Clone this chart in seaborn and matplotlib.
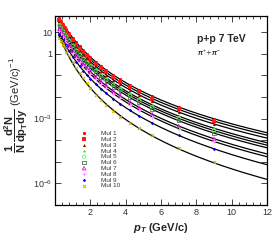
import numpy as np
import pandas as pd
import seaborn as sns
import matplotlib
matplotlib.use("Agg")
import matplotlib.pyplot as plt
from matplotlib.ticker import MultipleLocator, FixedLocator, FuncFormatter, NullLocator

# measured pion spectra, p+p 7 TeV, ten multiplicity classes
pt = [0.25, 0.35, 0.45, 0.55, 0.65, 0.8, 1.0, 1.2, 1.4, 1.6, 1.8, 2.0, 2.3, 2.6, 2.9,
      3.3, 3.7, 4.25, 4.75, 5.5, 7.0, 9.0]

mul1 = [45.1, 33.0, 24.2, 17.9, 13.5, 8.93, 5.37, 3.37, 2.18, 1.45, 0.99, 0.693, 0.422, 0.267,
        0.174, 0.103, 0.064, 0.035, 0.0213, 0.0108, 3.42e-3, 9.77e-4]
mul2 = [35.0, 25.6, 18.8, 13.9, 10.5, 6.93, 4.17, 2.62, 1.69, 1.13, 0.768, 0.538, 0.327, 0.207,
        0.135, 0.080, 0.0497, 0.0272, 0.0165, 8.38e-3, 2.65e-3, 7.58e-4]
mul3 = [28.4, 20.7, 15.2, 11.2, 8.38, 5.55, 3.32, 2.07, 1.34, 0.887, 0.604, 0.422, 0.255, 0.161,
        0.105, 0.0618, 0.0381, 0.0207, 0.0126, 6.35e-3, 1.99e-3, 5.62e-4]
mul4 = [24.0, 17.4, 12.6, 9.27, 6.87, 4.51, 2.65, 1.64, 1.04, 0.684, 0.461, 0.319, 0.190, 0.118,
        0.0762, 0.0444, 0.0270, 0.0145, 8.63e-3, 4.29e-3, 1.30e-3, 3.55e-4]
mul5 = [20.9, 15.1, 10.9, 7.98, 5.90, 3.85, 2.26, 1.38, 0.877, 0.574, 0.385, 0.265, 0.157, 0.0975,
        0.0625, 0.0361, 0.0219, 0.0116, 6.92e-3, 3.41e-3, 1.02e-3, 2.75e-4]
mul6 = [17.8, 12.8, 9.23, 6.71, 4.95, 3.22, 1.88, 1.15, 0.723, 0.471, 0.315, 0.216, 0.128, 0.0785,
        0.0501, 0.0288, 0.0174, 9.18e-3, 5.43e-3, 2.66e-3, 7.85e-4, 2.09e-4]
mul7 = [14.0, 9.98, 7.13, 5.14, 3.76, 2.40, 1.38, 0.828, 0.514, 0.330, 0.218, 0.148, 0.0859, 0.0521,
        0.0327, 0.0185, 0.0110, 5.69e-3, 3.30e-3, 1.58e-3, 4.49e-4, 1.15e-4]
mul8 = [11.1, 7.91, 5.65, 4.06, 2.96, 1.90, 1.09, 0.650, 0.404, 0.259, 0.171, 0.115, 0.0668, 0.0405,
        0.0254, 0.0143, 8.47e-3, 4.39e-3, 2.54e-3, 1.21e-3, 3.43e-4, 8.69e-5]
mul9 = [8.22, 5.75, 4.05, 2.88, 2.07, 1.30, 0.728, 0.427, 0.260, 0.164, 0.106, 0.0706, 0.0401, 0.0238,
        0.0146, 8.07e-3, 4.67e-3, 2.35e-3, 1.33e-3, 6.17e-4, 1.66e-4, 3.98e-5]
mul10 = [5.47, 3.72, 2.54, 1.75, 1.23, 0.743, 0.396, 0.222, 0.130, 0.0708, 0.0418, 0.0254, 0.0128,
         6.98e-3, 4.03e-3, 2.11e-3, 1.20e-3, 6.19e-4, 3.65e-4, 1.64e-4, 4.12e-5, 9.55e-6]

labels = ["Mul 1", "Mul 2", "Mul 3", "Mul 4", "Mul 5", "Mul 6", "Mul 7", "Mul 8", "Mul 9", "Mul 10"]
series = [mul1, mul2, mul3, mul4, mul5, mul6, mul7, mul8, mul9, mul10]

# marker style per class: (marker, colour, filled, size)
styles = [("o", "#ff0000", True, 5), ("s", "#ff1a1a", True, 5), ("^", "#a00000", True, 5),
          ("*", "#00ee00", True, 7), ("o", "#7fe07f", False, 6), ("s", "#3f7f3f", False, 6),
          ("^", "#ff00ff", False, 6), ("+", "#ff99ff", True, 7), ("D", "#0000ff", True, 3),
          ("x", "#c8b400", True, 5)]

PION_MASS = 0.1396


def tsallis_fit(x, y):
    # least squares Tsallis fit in log space (grid over n and T)
    x = np.asarray(x)
    logy = np.log10(y)
    mtk = np.sqrt(x ** 2 + PION_MASS ** 2) - PION_MASS
    ns = np.linspace(3, 14, 221)[:, None]
    Ts = np.linspace(0.05, 0.6, 221)[None, :]
    L = np.log10(1 + mtk[None, None, :] / (ns * Ts)[..., None])
    loga = np.mean(logy + ns[..., None] * L, axis=-1)
    res = np.sum((logy - loga[..., None] + ns[..., None] * L) ** 2, axis=-1)
    i, j = np.unravel_index(np.argmin(res), res.shape)
    return loga[i, j], ns[i, 0], Ts[0, j]


def tsallis(x, loga, n, T):
    mtk = np.sqrt(x ** 2 + PION_MASS ** 2) - PION_MASS
    return 10 ** (loga - n * np.log10(1 + mtk / (n * T)))


sns.set_style("ticks")
plt.rcParams["font.family"] = ["Liberation Sans", "DejaVu Sans"]
plt.rcParams["mathtext.fontset"] = "custom"
plt.rcParams["mathtext.rm"] = "Liberation Sans"
plt.rcParams["mathtext.it"] = "Liberation Sans:italic:bold"
plt.rcParams["mathtext.bf"] = "Liberation Sans:bold"

fig = plt.figure(figsize=(2.76, 2.42), dpi=100)
ax = fig.add_axes([0.1993, 0.1529, 0.768, 0.781])

grid = np.linspace(0.2, 12, 400)
for lab, ys, (mk, col, filled, sz) in zip(labels, series, styles):
    loga, n, T = tsallis_fit(pt, ys)
    sns.lineplot(x=grid, y=tsallis(grid, loga, n, T), color="black", lw=0.9,
                 ax=ax, zorder=2, legend=False)
    df = pd.DataFrame({"pt": pt, "y": ys})
    if mk in ("+", "x"):
        sns.scatterplot(data=df, x="pt", y="y", marker=mk, color=col, s=sz,
                        linewidth=0.7, ax=ax, zorder=3, label=lab)
    elif filled:
        sns.scatterplot(data=df, x="pt", y="y", marker=mk, color=col, s=sz,
                        linewidth=0, ax=ax, zorder=3, label=lab)
    else:
        sns.scatterplot(data=df, x="pt", y="y", marker=mk, facecolor="none",
                        edgecolor=col, s=sz, linewidth=0.6, ax=ax, zorder=3, label=lab)

ax.set_yscale("log")
ax.set_xlim(0, 12)
ax.set_ylim(1e-7, 55)

ax.xaxis.set_major_locator(MultipleLocator(2))
ax.xaxis.set_minor_locator(MultipleLocator(0.4))
ax.xaxis.set_major_formatter(FuncFormatter(lambda v, p: "" if v == 0 else "%d" % v))
ax.yaxis.set_major_locator(FixedLocator([10.0 ** k for k in range(-7, 2)]))
ax.yaxis.set_minor_locator(NullLocator())
ylab = {1: "10", 0: "1", -3: "$10^{-3}$", -6: "$10^{-6}$"}
ax.yaxis.set_major_formatter(FuncFormatter(
    lambda v, p: ylab.get(int(round(np.log10(v))), "")))

ax.tick_params(which="both", direction="in", top=True, right=True, width=0.6,
               labelsize=6.5, labelcolor="#333333", pad=2)
ax.tick_params(which="major", length=4.5)
ax.tick_params(which="minor", length=2.5)
for sp in ax.spines.values():
    sp.set_linewidth(0.9)
    sp.set_color("black")

ax.set_xlabel(r"$p_{T}$ (GeV/c)", fontsize=8, fontweight="bold", labelpad=3)
ax.set_ylabel(r"$\mathbf{\dfrac{1}{N}\,\dfrac{d^{2}N}{dp_{T}dy}}$ $\mathrm{(GeV/c)^{-1}}$",
              fontsize=8, labelpad=0)
ax.yaxis.set_label_coords(-0.12, 0.53)

ax.text(0.67, 0.88, "p+p 7 TeV", transform=ax.transAxes, fontsize=7.5,
        fontweight="bold", va="center")
ax.text(0.67, 0.805, r"$\pi^{+}$+$\pi^{-}$", transform=ax.transAxes, fontsize=5,
        family="DejaVu Serif", va="center")

leg = ax.legend(loc="upper left", bbox_to_anchor=(0.11, 0.41), frameon=False,
                fontsize=4.6, labelspacing=0.05, handlelength=0.8, handletextpad=2.2,
                borderpad=0, markerscale=1.0)
for t in leg.get_texts():
    t.set_color("#333333")

fig.savefig("out.png", dpi=100)
